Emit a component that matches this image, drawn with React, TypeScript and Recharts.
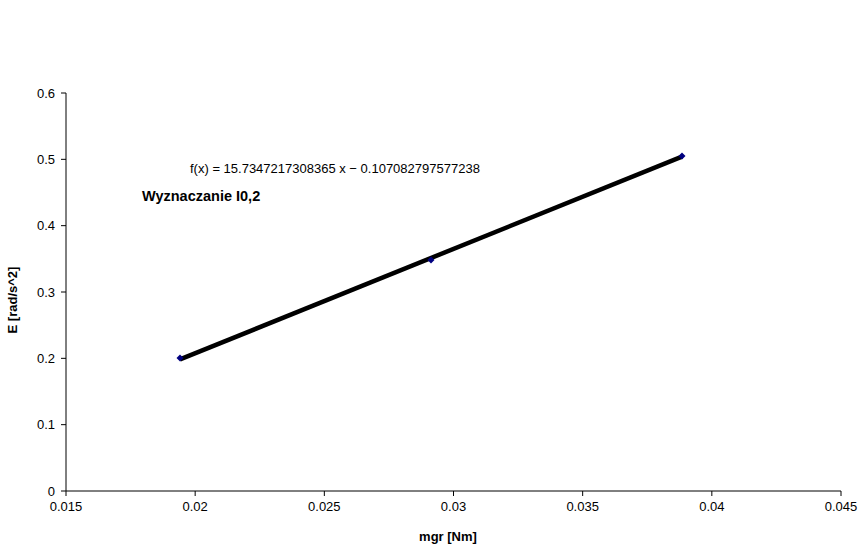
import React from 'react';
import { ScatterChart, Scatter, XAxis, YAxis } from 'recharts';

const mgr = [0.019413, 0.029129, 0.038845];
const epsilon = [0.2005, 0.3482, 0.505];
const xTicks = [0.015, 0.02, 0.025, 0.03, 0.035, 0.04, 0.045];
const yTicks = [0, 0.1, 0.2, 0.3, 0.4, 0.5, 0.6];
const slope = 15.7347217308365;
const intercept = -0.107082797577238;

const points = mgr.map((x, i) => ({ x, y: epsilon[i] }));
const trend = [mgr[0], mgr[mgr.length - 1]].map((x) => ({ x, y: slope * x + intercept }));

const Diamond = (props: any) => {
  const { cx, cy } = props;
  if (cx == null || cy == null) return null;
  const r = 3.5;
  return (
    <polygon
      points={`${cx},${cy - r} ${cx + r},${cy} ${cx},${cy + r} ${cx - r},${cy}`}
      fill="#000080"
    />
  );
};

const font = 'Liberation Sans, Arial, sans-serif';
const tickStyle = { fontSize: 13, fill: '#000', fontFamily: font };

export default function App() {
  return (
    <div style={{ position: 'absolute', left: 0, top: 0, width: 866, height: 548, background: '#fff' }}>
      <ScatterChart
        width={866}
        height={548}
        margin={{ top: 93, right: 25, bottom: 0, left: 0 }}
        style={{ fontFamily: font }}
      >
        <XAxis
          type="number"
          dataKey="x"
          domain={[0.015, 0.045]}
          ticks={xTicks}
          tick={{ ...tickStyle, dy: 4 }}
          tickSize={5}
          stroke="#000"
          height={57}
          allowDataOverflow
        />
        <YAxis
          type="number"
          dataKey="y"
          domain={[0, 0.6]}
          ticks={yTicks}
          tick={{ ...tickStyle, dx: -4 }}
          tickSize={5}
          stroke="#000"
          width={66}
          allowDataOverflow
        />
        <Scatter
          data={trend}
          line={{ stroke: '#000', strokeWidth: 4.5 }}
          shape={() => null}
          isAnimationActive={false}
        />
        <Scatter data={points} shape={<Diamond />} isAnimationActive={false} />
        <text x={190} y={173} fontSize={13} fill="#000" fontFamily={font}>
          f(x) = 15.7347217308365 x − 0.107082797577238
        </text>
        <text x={142} y={201} fontSize={14.5} fontWeight="bold" fill="#000" fontFamily={font}>
          Wyznaczanie I0,2
        </text>
        <text
          x={17}
          y={300}
          fontSize={13}
          fontWeight="bold"
          fill="#000"
          textAnchor="middle"
          transform="rotate(-90 17 300)"
          fontFamily={font}
        >
          E [rad/s^2]
        </text>
        <text x={448} y={541} fontSize={13} fontWeight="bold" fill="#000" textAnchor="middle" fontFamily={font}>
          mgr [Nm]
        </text>
      </ScatterChart>
    </div>
  );
}
